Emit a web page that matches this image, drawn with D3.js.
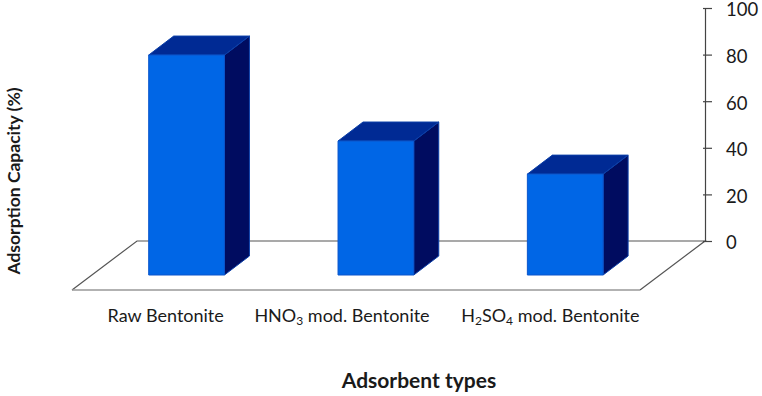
<!DOCTYPE html>
<html>
<head>
<meta charset="utf-8">
<script src="https://d3js.org/d3.v7.min.js"></script>
<style>
  html, body { margin: 0; padding: 0; background: #fff; }
  svg { display: block; }
  text { font-family: Lato, "Open Sans", sans-serif; fill: #1a1a1a; }
</style>
</head>
<body>
<div id="chart"></div>
<script>
// Chart values
var categories = ["Raw Bentonite", "HNO3 mod. Bentonite", "H2SO4 mod. Bentonite"];
var capacity = [94.4, 57.5, 43.3];
var yTicks = [0, 20, 40, 60, 80, 100];

var width = 762, height = 396;

var svg = d3.select("#chart")
  .append("svg")
  .attr("width", width)
  .attr("height", height);

// Floor of the 3D chart: front edge, plus the shift to reach the back wall
var floorLeft = 72, floorRight = 640, floorFront = 290;
var floorDx = 65, floorDy = -49;
// Depth of a bar and how far its front face sits behind the floor's front edge
var barDx = 25, barDy = -19;
var barBase = 275;
var barShift = (floorFront - barBase) * floorDx / -floorDy;

var x = d3.scaleBand()
  .domain(categories)
  .range([floorLeft, floorRight])
  .paddingInner(0.6)
  .paddingOuter(0.3);

var y = d3.scaleLinear()
  .domain([0, 100])
  .range([241, 8]);

// Floor outline
var floor = svg.append("g")
  .attr("fill", "none")
  .attr("stroke-width", 1.2);
floor.append("path")
  .attr("stroke", "#555")
  .attr("d", d3.line()([
    [floorLeft, floorFront],
    [floorLeft + floorDx, floorFront + floorDy],
    [floorRight + floorDx, floorFront + floorDy],
    [floorRight, floorFront]
  ]));
floor.append("path")
  .attr("stroke", "#999")
  .attr("stroke-width", 1.6)
  .attr("d", d3.line()([[floorLeft, floorFront], [floorRight, floorFront]]));

// Value axis on the right of the back wall
var axis = svg.append("g")
  .attr("transform", "translate(" + (floorRight + floorDx) + ",0)")
  .call(d3.axisRight(y).tickValues(yTicks).tickSizeInner(7).tickSizeOuter(0).tickPadding(14));
axis.select(".domain").attr("stroke", "#444").attr("stroke-width", 1.2);
axis.selectAll(".tick line").attr("stroke", "#444").attr("stroke-width", 1.2).attr("x1", -2);
axis.selectAll(".tick text")
  .attr("y", 2)
  .style("font-size", "18.5px");

// Bars: side, top, then front face
var bars = svg.append("g")
  .selectAll("g")
  .data(categories)
  .enter()
  .append("g")
  .attr("stroke-width", 1)
  .attr("stroke-linejoin", "round");

function barBox(d, i) {
  var left = x(d) + barShift;
  var right = left + x.bandwidth();
  var top = barBase - (y(0) - y(capacity[i]));
  return { left: left, right: right, top: top };
}

bars.append("path")
  .attr("fill", "#000c60")
  .attr("stroke", "#0a3fa8")
  .attr("d", function (d, i) {
    var b = barBox(d, i);
    return d3.line()([
      [b.right, b.top],
      [b.right + barDx, b.top + barDy],
      [b.right + barDx, barBase + barDy],
      [b.right, barBase]
    ]) + "Z";
  });

bars.append("path")
  .attr("fill", "#002a94")
  .attr("stroke", "#0a3fa8")
  .attr("d", function (d, i) {
    var b = barBox(d, i);
    return d3.line()([
      [b.left, b.top],
      [b.left + barDx, b.top + barDy],
      [b.right + barDx, b.top + barDy],
      [b.right, b.top]
    ]) + "Z";
  });

bars.append("rect")
  .attr("fill", "#0066e6")
  .attr("stroke", "#0a55cc")
  .attr("x", function (d, i) { return barBox(d, i).left; })
  .attr("y", function (d, i) { return barBox(d, i).top; })
  .attr("width", x.bandwidth())
  .attr("height", function (d, i) { return barBase - barBox(d, i).top; });

// Category labels, digits set as subscripts
var labelShift = [-1, -14, 5];
var labels = svg.append("g")
  .selectAll("text")
  .data(categories)
  .enter()
  .append("text")
  .attr("x", function (d, i) { return x(d) + x.bandwidth() / 2 + labelShift[i]; })
  .attr("y", 322)
  .attr("text-anchor", "middle")
  .style("font-size", "18px");

labels.each(function (d) {
  var label = d3.select(this);
  var afterDigit = false;
  d.split(/(\d)/).filter(function (part) { return part !== ""; }).forEach(function (part) {
    if (/^\d$/.test(part)) {
      label.append("tspan").attr("dy", 3).style("font-size", "12px").text(part);
      afterDigit = true;
    } else {
      // go back up to the baseline after a subscript
      label.append("tspan").attr("dy", afterDigit ? -3 : 0).text(part);
      afterDigit = false;
    }
  });
});

// Axis titles
svg.append("text")
  .attr("x", 419)
  .attr("y", 388)
  .attr("text-anchor", "middle")
  .style("font-size", "21px")
  .style("font-weight", "700")
  .text("Adsorbent types");

svg.append("text")
  .attr("transform", "translate(20,181) rotate(-90)")
  .attr("text-anchor", "middle")
  .style("font-size", "17.5px")
  .style("font-weight", "700")
  .text("Adsorption Capacity (%)");
</script>
</body>
</html>
